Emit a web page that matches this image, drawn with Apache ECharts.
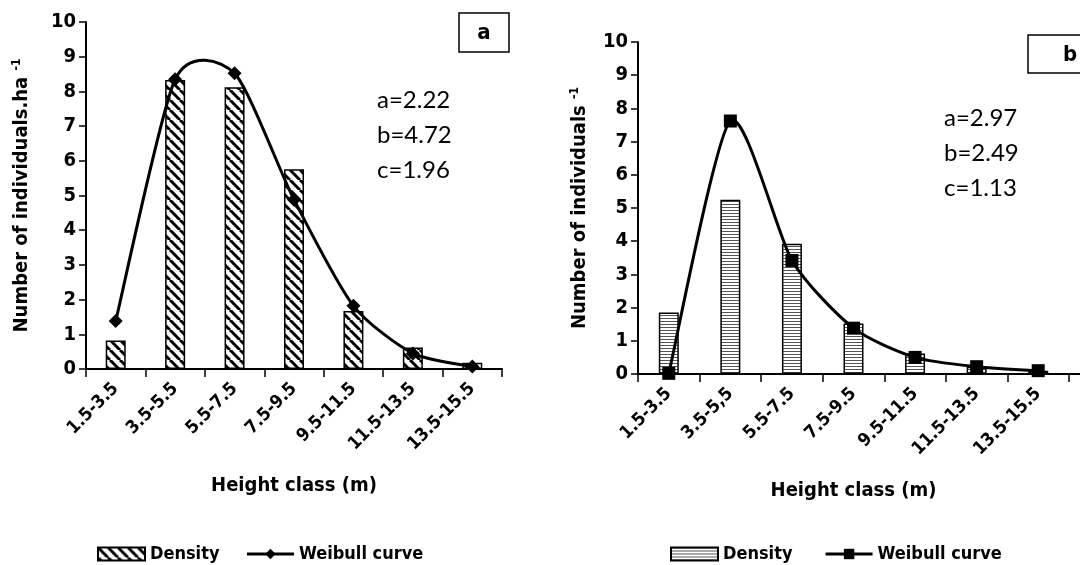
<!DOCTYPE html>
<html>
<head>
<meta charset="utf-8">
<script src="https://cdn.jsdelivr.net/npm/echarts@6/dist/echarts.min.js"></script>
<style>
  html, body { margin: 0; padding: 0; background: #fff; }
  #main { width: 1080px; height: 565px; }
</style>
</head>
<body>
<div id="main"></div>
<script>
const classesA = ["1.5-3.5", "3.5-5.5", "5.5-7.5", "7.5-9.5", "9.5-11.5", "11.5-13.5", "13.5-15.5"];
const classesB = ["1.5-3.5", "3.5-5,5", "5.5-7.5", "7.5-9.5", "9.5-11.5", "11.5-13.5", "13.5-15.5"];
const densityA = [0.82, 8.33, 8.12, 5.76, 1.67, 0.62, 0.18];
const weibullA = [1.38, 8.35, 8.52, 4.88, 1.82, 0.45, 0.07];
const densityB = [1.85, 5.25, 3.92, 1.52, 0.62, 0.22, 0.1];
const weibullB = [0.02, 7.62, 3.42, 1.38, 0.5, 0.22, 0.1];
const paramsA = ["a=2.22", "b=4.72", "c=1.96"];
const paramsB = ["a=2.97", "b=2.49", "c=1.13"];

const FONT = '"DejaVu Sans Condensed", "Liberation Sans", sans-serif';

function diagHatch() {
  const c = document.createElement("canvas");
  c.width = 10; c.height = 10;
  const g = c.getContext("2d");
  g.fillStyle = "#fff"; g.fillRect(0, 0, 10, 10);
  g.strokeStyle = "#000"; g.lineWidth = 3;
  [-10, 0, 10].forEach(o => {
    g.beginPath(); g.moveTo(o, 0); g.lineTo(o + 10, 10); g.stroke();
  });
  return { image: c, repeat: "repeat" };
}

function horizHatch() {
  const c = document.createElement("canvas");
  c.width = 4; c.height = 3;
  const g = c.getContext("2d");
  g.fillStyle = "#fff"; g.fillRect(0, 0, 4, 3);
  g.fillStyle = "#555"; g.fillRect(0, 0, 4, 1);
  return { image: c, repeat: "repeat" };
}

// smooth curve through the points (Catmull-Rom style bezier segments)
function curveSeries(name, values, xIdx) {
  const k = 0.7;
  return {
    name, type: "custom", xAxisIndex: xIdx, yAxisIndex: xIdx, z: 4, silent: true,
    data: values.map((v, i) => [i, v]),
    renderItem(params, api) {
      const i = params.dataIndex;
      if (i >= values.length - 1) return null;
      const pt = j => api.coord([j, values[Math.max(0, Math.min(values.length - 1, j))]]);
      const p0 = pt(i - 1), p1 = pt(i), p2 = pt(i + 1), p3 = pt(i + 2);
      if (i === 0) { p0[0] = p1[0]; p0[1] = p1[1]; }
      if (i + 2 > values.length - 1) { p3[0] = p2[0]; p3[1] = p2[1]; }
      return {
        type: "bezierCurve",
        shape: {
          x1: p1[0], y1: p1[1], x2: p2[0], y2: p2[1],
          cpx1: p1[0] + (p2[0] - p0[0]) / 6 * k, cpy1: p1[1] + (p2[1] - p0[1]) / 6 * k,
          cpx2: p2[0] - (p3[0] - p1[0]) / 6 * k, cpy2: p2[1] - (p3[1] - p1[1]) / 6 * k
        },
        style: { stroke: "#000", lineWidth: 3, fill: null }
      };
    }
  };
}

function yAxis(gridIndex, name, gap) {
  return {
    type: "value", gridIndex, min: 0, max: 10, interval: 1,
    name, nameLocation: "middle", nameGap: gap,
    nameTextStyle: {
      fontFamily: FONT, fontWeight: "bold", fontSize: 20, color: "#000",
      rich: { sup: { fontFamily: FONT, fontWeight: "bold", fontSize: 12, color: "#000", verticalAlign: "top", lineHeight: 22 },
              m: { fontFamily: FONT, fontWeight: "bold", fontSize: 20, color: "#000", lineHeight: 22 } }
    },
    axisLine: { show: true, lineStyle: { color: "#000", width: 2 } },
    axisTick: { show: true, length: 7, lineStyle: { color: "#000", width: 1.5 } },
    axisLabel: { fontFamily: FONT, fontWeight: "bold", fontSize: 20, color: "#000", margin: 10 },
    splitLine: { show: false }
  };
}

function xAxis(gridIndex, data, gap) {
  return {
    type: "category", gridIndex, data,
    name: "Height class (m)", nameLocation: "middle", nameGap: gap,
    nameTextStyle: { fontFamily: FONT, fontWeight: "bold", fontSize: 20, color: "#000" },
    axisLine: { lineStyle: { color: "#000", width: 2 } },
    axisTick: { show: true, length: 8, lineStyle: { color: "#000", width: 1.5 } },
    axisLabel: { rotate: 45, interval: 0, fontFamily: FONT, fontWeight: "bold", fontSize: 18, color: "#000", margin: 17 }
  };
}

function paramText(x, y, lines) {
  return {
    type: "text", left: x, top: y,
    style: { text: lines.join("\n"), font: '24px Lato, "Open Sans", sans-serif', fill: "#000", lineHeight: 35 }
  };
}

function legend(left, names) {
  return {
    left, top: 540, itemWidth: 47, itemHeight: 13, itemGap: 26,
    data: [{ name: names[0], icon: "rect" }, { name: names[1] }],
    lineStyle: { opacity: 1, color: "#000", width: 3 },
    textStyle: { fontFamily: FONT, fontWeight: "bold", fontSize: 18, color: "#000" },
    selectedMode: false
  };
}

const chart = echarts.init(document.getElementById("main"), null, { renderer: "canvas" });

chart.setOption({
  animation: false,
  grid: [
    { left: 86, top: 22, width: 416, height: 347 },
    { left: 638, top: 42, width: 431, height: 332 }
  ],
  xAxis: [xAxis(0, classesA, 107), xAxis(1, classesB, 107)],
  yAxis: [
    yAxis(0, "{m|Number of individuals.ha }{sup|-1}", 53),
    yAxis(1, "{m|Number of individuals }{sup|-1}", 47)
  ],
  legend: [
    legend(92, ["Density", "Weibull curve"]),
    legend(665, ["Density ", "Weibull curve "])
  ],
  graphic: [
    { type: "rect", shape: { x: 459, y: 13, width: 50, height: 39 }, style: { fill: "#fff", stroke: "#000", lineWidth: 1.5 } },
    { type: "text", x: 484, y: 33, style: { text: "a", font: "bold 22px " + FONT, fill: "#000", align: "center", verticalAlign: "middle" } },
    { type: "rect", shape: { x: 1028, y: 35, width: 80, height: 38 }, style: { fill: "#fff", stroke: "#000", lineWidth: 1.5 } },
    { type: "text", x: 1070, y: 55, style: { text: "b", font: "bold 22px " + FONT, fill: "#000", align: "center", verticalAlign: "middle" } },
    { type: "line", shape: { x1: 1069, y1: 374, x2: 1080, y2: 374 }, style: { stroke: "#000", lineWidth: 2 } },
    paramText(377, 83, paramsA),
    paramText(944, 101, paramsB)
  ],
  series: [
    {
      name: "Density", type: "bar", xAxisIndex: 0, yAxisIndex: 0, data: densityA, barWidth: 20,
      itemStyle: { color: diagHatch(), borderColor: "#000", borderWidth: 1.5 }
    },
    curveSeries("curveA", weibullA, 0),
    {
      name: "Weibull curve", type: "line", xAxisIndex: 0, yAxisIndex: 0, data: weibullA,
      symbol: "diamond", symbolSize: 14, z: 5,
      lineStyle: { color: "#000", width: 3, opacity: 0 }, itemStyle: { color: "#000" }
    },
    {
      name: "Density ", type: "bar", xAxisIndex: 1, yAxisIndex: 1, data: densityB, barWidth: 20,
      itemStyle: { color: horizHatch(), borderColor: "#000", borderWidth: 1.5 }
    },
    curveSeries("curveB", weibullB, 1),
    {
      name: "Weibull curve ", type: "line", xAxisIndex: 1, yAxisIndex: 1, data: weibullB,
      symbol: "rect", symbolSize: 13, z: 5,
      lineStyle: { color: "#000", width: 3, opacity: 0 }, itemStyle: { color: "#000" }
    }
  ]
});
</script>
</body>
</html>
